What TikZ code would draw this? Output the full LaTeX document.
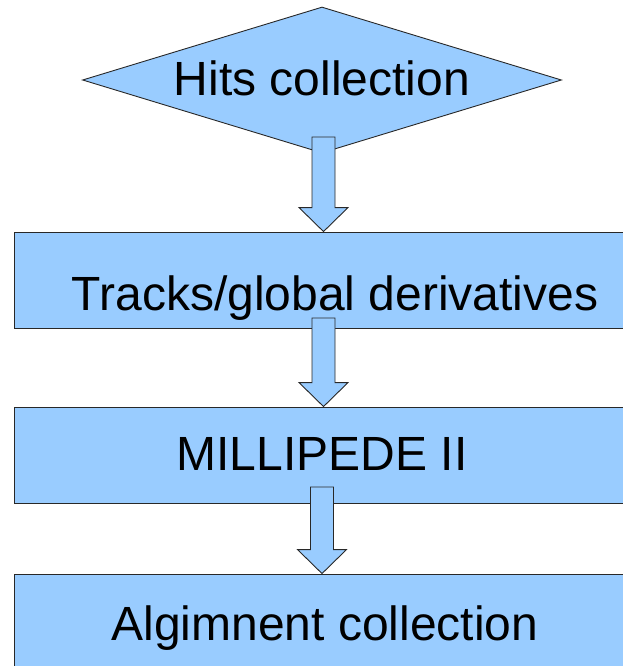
\documentclass[tikz,border=0pt]{standalone}
\usepackage{fontspec}
\setmainfont{Liberation Sans}
\usetikzlibrary{shapes.geometric,calc}
\definecolor{boxblue}{RGB}{153,204,255}
\definecolor{edge}{RGB}{40,40,40}
\tikzset{
  flowshape/.style={draw=edge, line width=0.9pt, fill=boxblue, inner sep=0pt,
    font=\fontsize{48}{56}\selectfont},
  stepbox/.style={flowshape, rectangle, minimum height=96pt},
  decision/.style={flowshape, diamond, minimum width=479pt, minimum height=146pt, aspect=3.28},
  barrow/.style={draw=edge, line width=0.9pt, fill=boxblue, line join=miter}
}
\newcommand\blockarrow[2]{%
  \draw[barrow] ($(#1)+(-11.5,0)$) -- ($(#2)+(-11.5,-24)$) -- ($(#2)+(-24.5,-24)$) -- (#2)
    -- ($(#2)+(24.5,-24)$) -- ($(#2)+(11.5,-24)$) -- ($(#1)+(11.5,0)$) -- cycle;}
\begin{document}
\begin{tikzpicture}[x=1pt,y=-1pt]
\useasboundingbox (0,0) rectangle (623,666);
\clip (0,0) rectangle (623,666);
\node[decision, text height=40pt, text depth=8pt] (hits) at (322,80) {Hits collection};
\node[stepbox, minimum width=642pt, text height=70pt, text depth=10pt] (tracks) at (335,280) {Tracks/global derivatives};
\node[stepbox, minimum width=616pt, text height=40pt, text depth=10pt] (mill) at (322,455) {MILLIPEDE II};
\node[stepbox, minimum width=622pt, minimum height=130pt, text height=40pt, text depth=38pt] (align) at (325,639) {Algimnent collection};
\coordinate (a1s) at (323.5,137);
\coordinate (a1e) at (a1s |- tracks.north);
\coordinate (a2s) at (323.5,318);
\coordinate (a2e) at (a2s |- mill.north);
\coordinate (a3s) at (322,487);
\coordinate (a3e) at (a3s |- align.north);
\blockarrow{a1s}{a1e}
\blockarrow{a2s}{a2e}
\blockarrow{a3s}{a3e}
\end{tikzpicture}
\end{document}
